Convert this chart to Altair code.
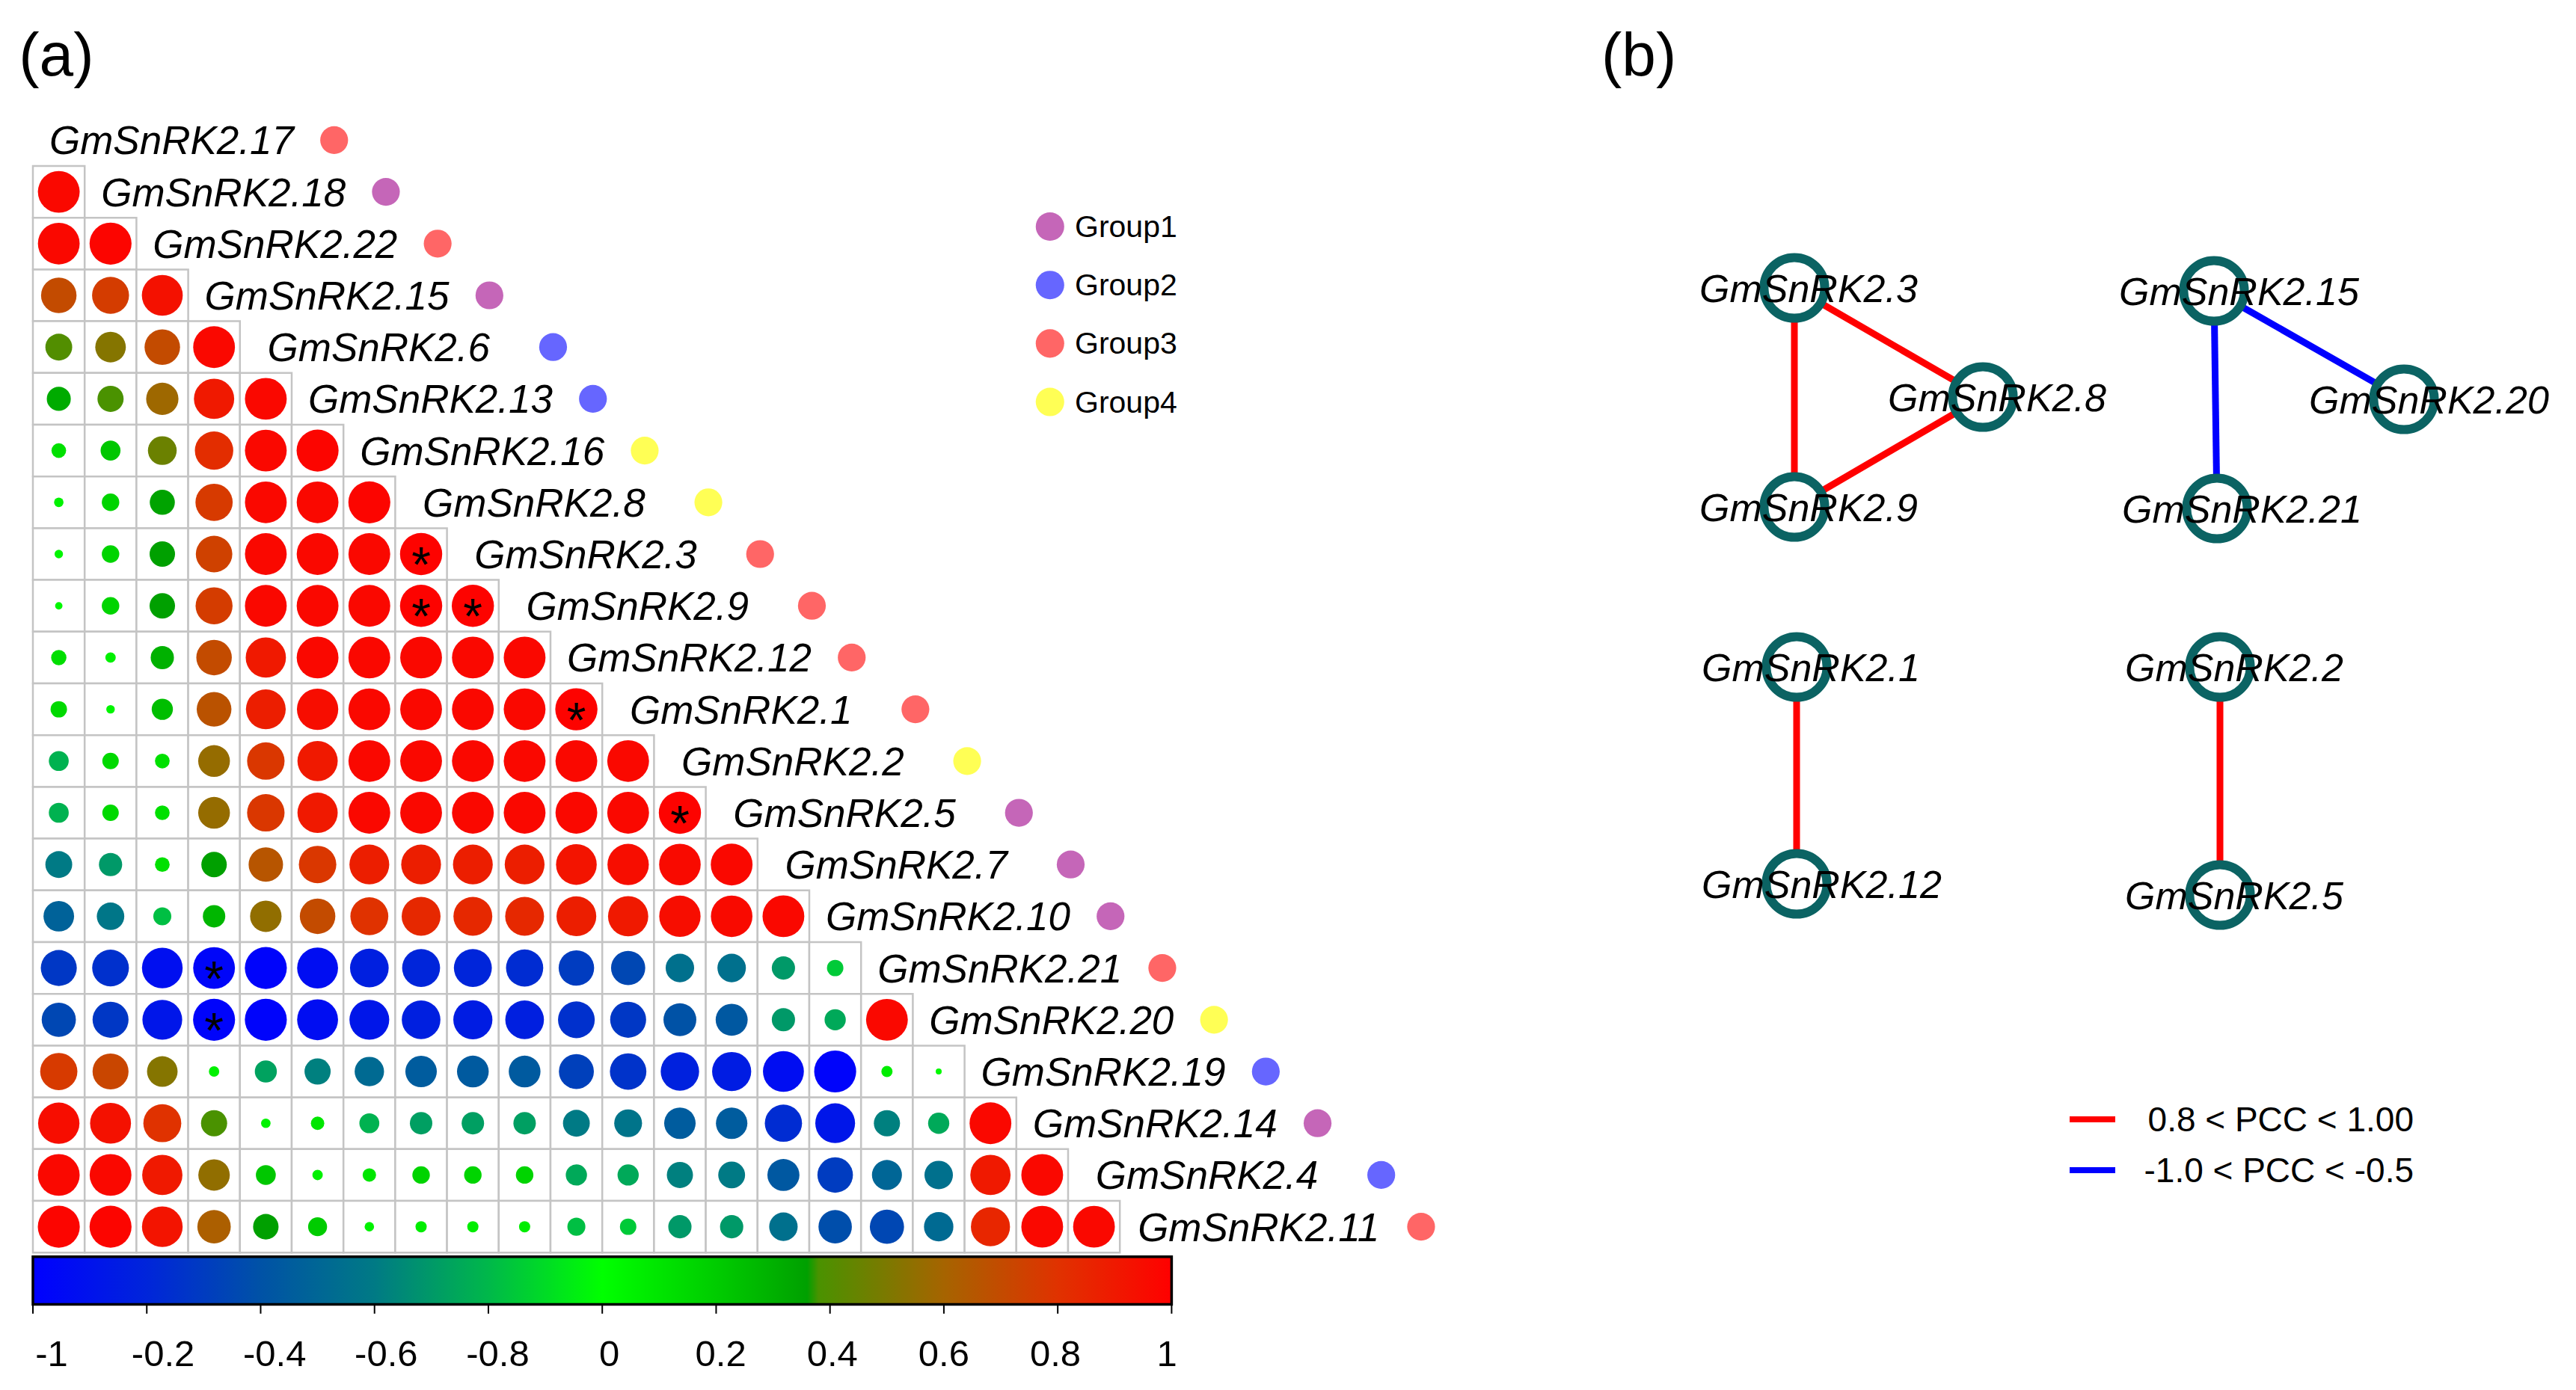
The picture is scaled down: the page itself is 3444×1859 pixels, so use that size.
import altair as alt
import pandas as pd

# ---------------- data ----------------
genes = ["GmSnRK2.17", "GmSnRK2.18", "GmSnRK2.22", "GmSnRK2.15", "GmSnRK2.6", "GmSnRK2.13",
         "GmSnRK2.16", "GmSnRK2.8", "GmSnRK2.3", "GmSnRK2.9", "GmSnRK2.12", "GmSnRK2.1",
         "GmSnRK2.2", "GmSnRK2.5", "GmSnRK2.7", "GmSnRK2.10", "GmSnRK2.21", "GmSnRK2.20",
         "GmSnRK2.19", "GmSnRK2.14", "GmSnRK2.4", "GmSnRK2.11"]
gene_groups = ["Group3", "Group1", "Group3", "Group1", "Group2", "Group2", "Group4", "Group4",
               "Group3", "Group3", "Group3", "Group3", "Group4", "Group1", "Group1", "Group1",
               "Group3", "Group4", "Group2", "Group1", "Group2", "Group3"]

# lower-triangle correlations: row i (genes[i+1]) against genes[0..i]
corr = [
    [0.97],
    [0.97, 0.98],
    [0.70, 0.76, 0.93],
    [0.40, 0.52, 0.70, 0.97],
    [0.32, 0.38, 0.58, 0.90, 0.97],
    [0.12, 0.22, 0.46, 0.82, 0.97, 0.98],
    [0.05, 0.17, 0.35, 0.77, 0.97, 0.97, 0.98],
    [0.04, 0.17, 0.36, 0.74, 0.97, 0.97, 0.97, 0.99],
    [0.03, 0.17, 0.36, 0.76, 0.97, 0.97, 0.97, 0.99, 0.99],
    [0.13, 0.06, 0.30, 0.70, 0.90, 0.97, 0.97, 0.97, 0.97, 0.97],
    [0.15, 0.04, 0.25, 0.67, 0.88, 0.95, 0.97, 0.97, 0.97, 0.97, 0.99],
    [-0.22, 0.15, 0.12, 0.56, 0.78, 0.90, 0.97, 0.97, 0.97, 0.97, 0.97, 0.97],
    [-0.22, 0.15, 0.12, 0.56, 0.78, 0.90, 0.97, 0.97, 0.97, 0.97, 0.97, 0.97, 0.99],
    [-0.40, -0.30, 0.12, 0.36, 0.66, 0.78, 0.88, 0.88, 0.88, 0.88, 0.92, 0.95, 0.96, 0.97],
    [-0.52, -0.42, -0.18, 0.28, 0.55, 0.70, 0.80, 0.84, 0.84, 0.84, 0.88, 0.90, 0.95, 0.96, 0.97],
    [-0.72, -0.75, -0.92, -0.97, -0.98, -0.93, -0.83, -0.80, -0.80, -0.77, -0.70, -0.65, -0.45,
     -0.45, -0.30, -0.15],
    [-0.65, -0.72, -0.88, -0.98, -0.98, -0.93, -0.88, -0.83, -0.85, -0.83, -0.75, -0.72, -0.60,
     -0.57, -0.30, -0.25, 0.97],
    [0.77, 0.72, 0.52, 0.06, -0.27, -0.38, -0.48, -0.55, -0.56, -0.56, -0.68, -0.74, -0.82, -0.85,
     -0.93, -0.98, 0.07, 0.02],
    [0.95, 0.93, 0.80, 0.38, 0.05, 0.10, -0.22, -0.28, -0.28, -0.28, -0.40, -0.43, -0.55, -0.55,
     -0.77, -0.88, -0.38, -0.25, 0.97],
    [0.97, 0.97, 0.90, 0.55, 0.22, 0.06, 0.10, 0.17, 0.17, 0.17, -0.25, -0.25, -0.38, -0.40, -0.57,
     -0.70, -0.50, -0.45, 0.90, 0.97],
    [0.98, 0.98, 0.92, 0.62, 0.36, 0.20, 0.05, 0.07, 0.07, 0.07, -0.18, -0.15, -0.30, -0.30, -0.45,
     -0.62, -0.65, -0.48, 0.85, 0.97, 0.97],
]
# significant pairs (row gene, column gene)
star_pairs = [("GmSnRK2.3", "GmSnRK2.8"), ("GmSnRK2.9", "GmSnRK2.8"), ("GmSnRK2.9", "GmSnRK2.3"),
              ("GmSnRK2.1", "GmSnRK2.12"), ("GmSnRK2.5", "GmSnRK2.2"),
              ("GmSnRK2.21", "GmSnRK2.15"), ("GmSnRK2.20", "GmSnRK2.15")]

group_names = ["Group1", "Group2", "Group3", "Group4"]
group_colors = ["#C566B8", "#6666FF", "#FF6666", "#FFFF55"]

cb_values = [-1.0, -0.8, -0.6, -0.4, -0.2, 0.0, 0.2, 0.36, 0.38, 0.6, 0.8, 1.0]
cb_colors = ["#0000FF", "#0025DA", "#0052A6", "#007A85", "#00B84A", "#00FF00", "#00CC00",
             "#00A000", "#4A9200", "#A66400", "#E03200", "#FF0000"]
cb_tick_labels = ["-1", "-0.2", "-0.4", "-0.6", "-0.8", "0", "0.2", "0.4", "0.6", "0.8", "1"]

# network (panel b): layout coordinates
net_genes = ["GmSnRK2.3", "GmSnRK2.8", "GmSnRK2.9", "GmSnRK2.15", "GmSnRK2.20", "GmSnRK2.21",
             "GmSnRK2.1", "GmSnRK2.12", "GmSnRK2.2", "GmSnRK2.5"]
net_x = [2399, 2651, 2399, 2960, 3214, 2964, 2402, 2402, 2968, 2968]
net_y = [385, 531, 678, 389, 534, 680, 892, 1182, 892, 1197]
edge_src = ["GmSnRK2.3", "GmSnRK2.3", "GmSnRK2.8", "GmSnRK2.15", "GmSnRK2.15", "GmSnRK2.1", "GmSnRK2.2"]
edge_dst = ["GmSnRK2.8", "GmSnRK2.9", "GmSnRK2.9", "GmSnRK2.20", "GmSnRK2.21", "GmSnRK2.12", "GmSnRK2.5"]
edge_type = ["0.8 < PCC < 1.00", "0.8 < PCC < 1.00", "0.8 < PCC < 1.00", "-1.0 < PCC < -0.5",
             "-1.0 < PCC < -0.5", "0.8 < PCC < 1.00", "0.8 < PCC < 1.00"]
edge_types = ["0.8 < PCC < 1.00", "-1.0 < PCC < -0.5"]
edge_colors = ["#FF0000", "#0000FF"]

FONT = "Liberation Sans"

# ---------------- panel (a) ----------------
WA, HB, H = 2092, 1336, 1843
xsA = alt.Scale(domain=[-0.5202, 29.711], nice=False, zero=False)
ysA = alt.Scale(domain=[-2.0925, 24.540], nice=False, zero=False, reverse=True)


def XA(f):
    return alt.X(f, type="quantitative", scale=xsA, axis=None)


def YA(f):
    return alt.Y(f, type="quantitative", scale=ysA, axis=None)


cell_rows = []
for i, vals in enumerate(corr):
    r = i + 1
    for c, v in enumerate(vals):
        cell_rows.append(dict(row=genes[r], col=genes[c], val=v, mag=abs(v),
                              x0=c, x1=c + 1, y0=r, y1=r + 1, cx=c + 0.5, cy=r + 0.5))
df_cells = pd.DataFrame(cell_rows)

star_set = set(star_pairs)
df_stars = df_cells[[(a, b) in star_set for a, b in zip(df_cells.row, df_cells.col)]].copy()
df_stars["s"] = "*"

df_genes = pd.DataFrame({"gene": genes, "group": gene_groups})
df_genes["r"] = range(len(genes))
df_genes["ly"] = df_genes["r"] + 0.5
df_genes["lx"] = df_genes["r"] + 2.68
df_genes["dx"] = [r + (5.82 if len(g) > 9 else 6.05) for r, g in zip(df_genes["r"], df_genes["gene"])]

cells = alt.Chart(df_cells).mark_rect(fill="white", stroke="#c4c4c4", strokeWidth=2.5).encode(
    x=XA("x0"), x2="x1:Q", y=YA("y0"), y2="y1:Q")

circles = alt.Chart(df_cells).mark_circle(opacity=1, strokeWidth=0).encode(
    x=XA("cx"), y=YA("cy"),
    size=alt.Size("mag:Q", scale=alt.Scale(domain=[0, 1], range=[0, 3217]), legend=None),
    color=alt.Color("val:Q", scale=alt.Scale(domain=cb_values, range=cb_colors, interpolate="rgb"),
                    legend=None))

stars = alt.Chart(df_stars).mark_text(fontSize=66, font=FONT, color="black", baseline="alphabetic",
                                      dy=37).encode(x=XA("cx"), y=YA("cy"), text="s:N")

labels = alt.Chart(df_genes).mark_text(fontSize=53, font=FONT, fontStyle="italic", align="center",
                                       baseline="middle", dy=3, color="black").encode(
    x=XA("lx"), y=YA("ly"), text="gene:N")

gdots = alt.Chart(df_genes).mark_circle(size=1385, opacity=1).encode(
    x=XA("dx"), y=YA("ly"),
    color=alt.Color("group:N", scale=alt.Scale(domain=group_names, range=group_colors), legend=None))

df_leg = pd.DataFrame({"group": group_names})
df_leg["i"] = range(len(group_names))
df_leg["y"] = 2.17 + df_leg["i"] * 1.13
df_leg["xd"] = 19.65
df_leg["xt"] = 20.13
leg_dots = alt.Chart(df_leg).mark_circle(size=1450, opacity=1).encode(
    x=XA("xd"), y=YA("y"),
    color=alt.Color("group:N", scale=alt.Scale(domain=group_names, range=group_colors), legend=None))
leg_text = alt.Chart(df_leg).mark_text(fontSize=41, font=FONT, align="left", baseline="middle",
                                       dy=2, color="black").encode(x=XA("xt"), y=YA("y"), text="group:N")

grad = alt.Gradient(gradient="linear",
                    stops=[alt.GradientStop(color=c, offset=(v + 1) / 2) for v, c in zip(cb_values, cb_colors)],
                    x1=0, x2=1, y1=0, y2=0)
df_cb = pd.DataFrame({"x0": [0], "x1": [22], "y0": [22.08], "y1": [23.0]})
cbar = alt.Chart(df_cb).mark_rect(fill=grad, stroke="black", strokeWidth=3.5).encode(
    x=XA("x0"), x2="x1:Q", y=YA("y0"), y2="y1:Q")

nt = len(cb_tick_labels)
df_ticks = pd.DataFrame({"label": cb_tick_labels})
df_ticks["k"] = range(nt)
df_ticks["tx"] = df_ticks["k"] * 22 / (nt - 1)
df_ticks["lx"] = 0.36 + df_ticks["k"] * 2.155
df_ticks["t0"] = 23.0
df_ticks["t1"] = 23.18
df_ticks["ly"] = 23.98
ticks = alt.Chart(df_ticks).mark_rule(color="black", strokeWidth=2).encode(
    x=XA("tx"), y=YA("t0"), y2="t1:Q")
tick_text = alt.Chart(df_ticks).mark_text(fontSize=49, font=FONT, align="center", baseline="middle",
                                          color="black").encode(x=XA("lx"), y=YA("ly"), text="label:N")

df_ta = pd.DataFrame({"t": ["(a)"], "x": [-0.27], "y": [-0.75]})
title_a = alt.Chart(df_ta).mark_text(fontSize=82, font=FONT, align="left", baseline="alphabetic",
                                     color="black").encode(x=XA("x"), y=YA("y"), text="t:N")

panel_a = alt.layer(cells, circles, stars, labels, gdots, leg_dots, leg_text, cbar, ticks, tick_text,
                    title_a).resolve_scale(color="independent", size="independent").properties(
    width=WA, height=H)

# ---------------- panel (b) ----------------
xsB = alt.Scale(domain=[2100, 3436], nice=False, zero=False)
ysB = alt.Scale(domain=[8, 1851], nice=False, zero=False, reverse=True)


def XB(f):
    return alt.X(f, type="quantitative", scale=xsB, axis=None)


def YB(f):
    return alt.Y(f, type="quantitative", scale=ysB, axis=None)


pos = {g: (x, y) for g, x, y in zip(net_genes, net_x, net_y)}
df_nodes = pd.DataFrame({"gene": net_genes, "x": net_x, "y": net_y})
df_edges = pd.DataFrame({
    "x": [pos[s][0] for s in edge_src], "y": [pos[s][1] for s in edge_src],
    "x2": [pos[d][0] for d in edge_dst], "y2": [pos[d][1] for d in edge_dst],
    "type": edge_type})

ecolor = alt.Color("type:N", scale=alt.Scale(domain=edge_types, range=edge_colors), legend=None)
edges = alt.Chart(df_edges).mark_rule(strokeWidth=9).encode(
    x=XB("x"), y=YB("y"), x2="x2:Q", y2="y2:Q", color=ecolor)
nodes = alt.Chart(df_nodes).mark_circle(size=6600, fill="white", stroke="#0b6363", strokeWidth=12,
                                        opacity=1).encode(x=XB("x"), y=YB("y"))
node_text = alt.Chart(df_nodes).mark_text(fontSize=52, font=FONT, fontStyle="italic", align="left",
                                          baseline="middle", dx=-127, dy=3, color="black").encode(
    x=XB("x"), y=YB("y"), text="gene:N")

df_pcc = pd.DataFrame({"type": edge_types, "x": [2767, 2767], "x2": [2828, 2828], "y": [1497, 1565],
                       "xt": [3227, 3227]})
pcc_lines = alt.Chart(df_pcc).mark_rule(strokeWidth=8).encode(
    x=XB("x"), x2="x2:Q", y=YB("y"), color=ecolor)
pcc_text = alt.Chart(df_pcc).mark_text(fontSize=46, font=FONT, align="right", baseline="middle",
                                       dy=2, color="black").encode(x=XB("xt"), y=YB("y"), text="type:N")

df_tb = pd.DataFrame({"t": ["(b)"], "x": [2141], "y": [101]})
title_b = alt.Chart(df_tb).mark_text(fontSize=82, font=FONT, align="left", baseline="alphabetic",
                                     color="black").encode(x=XB("x"), y=YB("y"), text="t:N")

panel_b = alt.layer(edges, nodes, node_text, pcc_lines, pcc_text, title_b).properties(width=HB, height=H)

chart = alt.hconcat(panel_a, panel_b, spacing=0, padding=0).configure_view(strokeWidth=0)

chart.save("out.html", embed_options={"renderer": "svg", "actions": False})
